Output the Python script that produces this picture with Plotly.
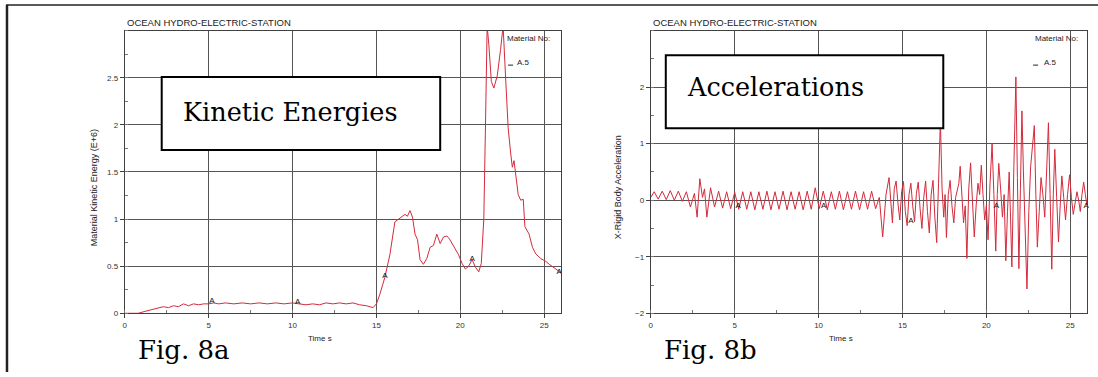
import plotly.graph_objects as go

W, H = 1098, 377

# ---------------- data ----------------
ke_t = [0.0, 0.8, 1.2, 1.6, 2.0, 2.3, 2.6, 2.9, 3.2, 3.5, 3.8, 4.1, 4.4, 4.7, 5.0, 5.3, 5.6,
        6.0, 6.5, 7.0, 7.5, 8.0, 8.5, 9.0, 9.5, 10.0, 10.4, 10.8, 11.2, 11.6, 12.0, 12.4,
        12.8, 13.2, 13.6, 14.0, 14.4, 14.8, 15.0, 15.2, 15.5, 15.8, 16.1, 16.3, 16.5, 16.7,
        16.85, 17.0, 17.15, 17.3, 17.45, 17.6, 17.8, 18.0, 18.2, 18.4, 18.6, 18.8, 19.0,
        19.2, 19.35, 19.5, 19.7, 19.9, 20.1, 20.3, 20.5, 20.7, 20.9, 21.1, 21.25, 21.4,
        21.5, 21.6, 21.7, 21.85, 22.0, 22.2, 22.4, 22.55, 22.7, 22.85, 23.0, 23.1, 23.2,
        23.45, 23.6, 23.75, 23.85, 24.1, 24.3, 24.5, 24.8, 25.1, 25.3, 25.6, 25.9, 26.0]
ke_v = [0.0, 0.0, 0.02, 0.04, 0.06, 0.07, 0.06, 0.08, 0.07, 0.10, 0.08, 0.10, 0.09, 0.10,
        0.10, 0.11, 0.10, 0.11, 0.10, 0.11, 0.10, 0.11, 0.10, 0.11, 0.10, 0.11, 0.10, 0.09,
        0.10, 0.09, 0.11, 0.10, 0.11, 0.10, 0.11, 0.09, 0.08, 0.06, 0.10, 0.20, 0.38, 0.62,
        0.97, 1.00, 1.02, 1.05, 1.03, 1.09, 1.02, 0.84, 0.78, 0.57, 0.52, 0.58, 0.70, 0.72,
        0.84, 0.74, 0.81, 0.82, 0.79, 0.74, 0.68, 0.62, 0.53, 0.47, 0.50, 0.57, 0.49, 0.44,
        0.53, 1.00, 2.00, 3.05, 2.85, 2.46, 2.39, 2.52, 2.80, 3.05, 2.50, 1.97, 1.70, 1.55,
        1.62, 1.26, 1.20, 1.21, 0.92, 0.84, 0.70, 0.63, 0.58, 0.55, 0.52, 0.48, 0.44, 0.43]

acc_t = [0.00, 0.20, 0.44, 0.68, 0.92, 1.16, 1.40, 1.64, 1.88, 2.12, 2.36, 2.60, 2.76, 2.92,
         3.08, 3.20, 3.34, 3.56, 3.80, 4.04, 4.28, 4.52, 4.76, 5.00, 5.24, 5.48, 5.72, 5.96,
         6.20, 6.44, 6.68, 6.92, 7.16, 7.40, 7.64, 7.88, 8.12, 8.36, 8.60, 8.84, 9.08, 9.32,
         9.56, 9.80, 10.04, 10.28, 10.52, 10.76, 11.00, 11.24, 11.48, 11.72, 11.96, 12.20,
         12.44, 12.68, 12.92, 13.16, 13.40, 13.62, 13.82, 14.02, 14.20, 14.30, 14.40, 14.51,
         14.62, 14.73, 14.84, 14.95, 15.06, 15.17, 15.28, 15.39, 15.50, 15.61, 15.72, 15.83,
         15.94, 16.05, 16.16, 16.27, 16.38, 16.49, 16.60, 16.71, 16.82, 16.93, 17.04, 17.15,
         17.26, 17.36, 17.46, 17.54, 17.62, 17.73, 17.84, 17.95, 18.06, 18.17, 18.28, 18.36,
         18.44, 18.54, 18.64, 18.74, 18.84, 18.95, 19.06, 19.17, 19.28, 19.39, 19.50, 19.60,
         19.70, 19.80, 19.90, 20.00, 20.10, 20.22, 20.34, 20.45, 20.56, 20.65, 20.74, 20.85,
         20.96, 21.06, 21.16, 21.26, 21.36, 21.44, 21.52, 21.64, 21.76, 21.85, 21.94, 22.03,
         22.12, 22.21, 22.30, 22.36, 22.42, 22.53, 22.64, 22.75, 22.86, 22.95, 23.04, 23.15,
         23.26, 23.37, 23.48, 23.59, 23.70, 23.80, 23.90, 23.99, 24.08, 24.19, 24.30, 24.40,
         24.50, 24.61, 24.72, 24.84, 24.96, 25.07, 25.18, 25.29, 25.40, 25.50, 25.60, 25.70,
         25.80, 25.90, 26.00]
acc_v = [0.05, 0.15, 0.02, 0.16, 0.01, 0.17, 0.00, 0.16, -0.02, 0.15, -0.12, 0.12, -0.30,
         0.38, 0.05, 0.20, -0.30, 0.22, -0.12, 0.16, -0.14, 0.15, -0.15, 0.14, -0.16, 0.15,
         -0.16, 0.15, -0.17, 0.15, -0.16, 0.16, -0.17, 0.15, -0.16, 0.16, -0.17, 0.15, -0.16,
         0.15, -0.17, 0.16, -0.16, 0.22, -0.15, 0.16, -0.17, 0.15, -0.16, 0.16, -0.17, 0.15,
         -0.16, 0.16, -0.17, 0.15, -0.16, 0.16, -0.15, 0.05, -0.65, 0.10, 0.40, -0.10, -0.40,
         0.20, 0.34, -0.05, -0.35, 0.15, 0.33, -0.20, -0.45, 0.10, 0.30, -0.10, -0.38, 0.12,
         0.32, -0.15, -0.50, 0.05, 0.34, -0.20, -0.58, 0.10, 0.35, -0.30, -0.75, 0.30,
         1.42, 0.20, -0.30, 0.10, -0.66, 0.10, 0.35, -0.10, -0.40, 0.05, 0.20, 0.30,
         0.60, 0.10, -0.40, -0.10, -1.03, 0.20, 0.66, 0.00, -0.65, -0.10, 0.30, 0.10,
         0.62, 0.10, -0.35, -0.10, -0.70, 0.30, 1.00, 0.10, -0.90, 0.10, 0.65, 0.20,
         -0.30, 0.10, -1.07, -0.20, 0.50, -0.30, -1.18, 0.60, 2.18, 0.40, -1.21, 0.20,
         1.58, 0.50, -0.70, -1.00, -1.57, -0.20, 0.60, 1.00, 1.32, 0.10, -0.83, -0.20,
         0.40, 0.10, -0.30, 0.50, 1.37, 0.10, -1.22, 0.10, 0.90, 0.05, -0.74, -0.10,
         0.43, 0.05, -0.35, 0.10, 0.45, 0.05, -0.25, -0.05, 0.15, 0.00, -0.20, 0.10,
         0.32, 0.10, -0.10]

ke_mark_t = [5.2, 10.3, 15.5, 20.7, 25.9]
ke_mark_v = [0.13, 0.12, 0.40, 0.58, 0.44]
acc_mark_t = [5.2, 10.3, 15.5, 20.6, 25.95]
acc_mark_v = [-0.10, -0.10, -0.37, -0.10, -0.10]

x_ticks = [0, 5, 10, 15, 20, 25]
ke_ticks = [0, 0.5, 1, 1.5, 2, 2.5]
acc_ticks = [-2, -1, 0, 1, 2]

station = "OCEAN HYDRO-ELECTRIC-STATION"
# ---------------- figure ----------------
RED = "#d42a3c"
GRID = "#555555"
AX = "#404040"
SANS = "Liberation Sans"
SERIF_FAM = "DejaVu Serif"

fig = go.Figure()
fig.add_trace(go.Scatter(x=ke_t, y=ke_v, mode="lines", line=dict(color=RED, width=1),
                         xaxis="x", yaxis="y", showlegend=False))
fig.add_trace(go.Scatter(x=acc_t, y=acc_v, mode="lines", line=dict(color=RED, width=1),
                         xaxis="x2", yaxis="y2", showlegend=False))
fig.add_trace(go.Scatter(x=ke_mark_t, y=ke_mark_v, mode="text", text=["A"] * len(ke_mark_t),
                         textfont=dict(family=SANS, size=8, color="#111"),
                         xaxis="x", yaxis="y", showlegend=False, cliponaxis=False))
fig.add_trace(go.Scatter(x=acc_mark_t, y=acc_mark_v, mode="text", text=["A"] * len(acc_mark_t),
                         textfont=dict(family=SANS, size=8, color="#111"),
                         xaxis="x2", yaxis="y2", showlegend=False, cliponaxis=False))

ydom = [(H - 317.5) / H, (H - 31) / H]

def xax(dom):
    return dict(domain=dom, range=[0, 26], tickmode="array", tickvals=x_ticks,
                showgrid=True, gridcolor=GRID, gridwidth=1,
                showline=True, linecolor=AX, linewidth=1, mirror=True,
                ticks="outside", ticklen=4, tickcolor=AX, zeroline=False,
                tickfont=dict(family=SANS, size=8, color="#333"),
                minor=dict(dtick=2.5, ticks="inside", ticklen=3, tickcolor="#777", showgrid=False))

def yax(rng, vals, anchor, dt):
    return dict(domain=ydom, range=rng, tickmode="array", tickvals=vals,
                showgrid=True, gridcolor=GRID, gridwidth=1,
                showline=True, linecolor=AX, linewidth=1, mirror=True,
                ticks="outside", ticklen=4, tickcolor=AX, zeroline=False, anchor=anchor,
                tickfont=dict(family=SANS, size=8, color="#333"),
                minor=dict(dtick=dt, ticks="inside", ticklen=3, tickcolor="#777", showgrid=False))

fig.update_layout(
    width=W, height=H, margin=dict(l=0, r=0, t=0, b=0),
    paper_bgcolor="white", plot_bgcolor="white",
    xaxis=xax([123 / W, 560 / W]) | dict(anchor="y"),
    yaxis=yax([0, 3], ke_ticks, "x", 0.25),
    xaxis2=xax([650 / W, 1087 / W]) | dict(anchor="y2"),
    yaxis2=yax([-2, 3], acc_ticks, "x2", 0.5),
)

def px(x):
    return x / W

def py(y):
    return 1 - y / H

ann = []
for x0 in (123, 650):
    ann.append(dict(x=px(x0), y=py(23), xref="paper", yref="paper", text=station,
                    showarrow=False, xanchor="left", yanchor="middle",
                    font=dict(family=SANS, size=9.5, color="#222")))
for x0, x1 in ((504, 510), (1033, 1038)):
    ann.append(dict(x=px(x0), y=py(39), xref="paper", yref="paper", text="Material No:",
                    showarrow=False, xanchor="left", yanchor="middle",
                    font=dict(family=SANS, size=8, color="#222")))
    ann.append(dict(x=px(x1 + 4), y=py(63), xref="paper", yref="paper", text="A.5",
                    showarrow=False, xanchor="left", yanchor="middle",
                    font=dict(family=SANS, size=8, color="#222")))
for xc in (319, 841):
    ann.append(dict(x=px(xc), y=py(343), xref="paper", yref="paper", text="Time s",
                    showarrow=False, xanchor="center", yanchor="middle",
                    font=dict(family=SANS, size=8, color="#222")))
ann.append(dict(x=px(93), y=py(190), xref="paper", yref="paper",
                text="Material Kinetic Energy (E+6)", textangle=-90, showarrow=False,
                xanchor="center", yanchor="middle",
                font=dict(family=SANS, size=9, color="#222")))
ann.append(dict(x=px(618), y=py(190), xref="paper", yref="paper",
                text="X-Rigid Body Acceleration", textangle=-90, showarrow=False,
                xanchor="center", yanchor="middle",
                font=dict(family=SANS, size=9, color="#222")))
SERIF = dict(family=SERIF_FAM, size=25.5, color="black")
ann.append(dict(x=px(179), y=py(114), xref="paper", yref="paper", text="Kinetic Energies",
                showarrow=False, xanchor="left", yanchor="middle", font=SERIF))
ann.append(dict(x=px(684), y=py(88), xref="paper", yref="paper", text="Accelerations",
                showarrow=False, xanchor="left", yanchor="middle", font=SERIF))
FIG = dict(family=SERIF_FAM, size=26, color="black")
ann.append(dict(x=px(134), y=py(355), xref="paper", yref="paper", text="Fig. 8a",
                showarrow=False, xanchor="left", yanchor="middle", font=FIG))
ann.append(dict(x=px(661), y=py(355), xref="paper", yref="paper", text="Fig. 8b",
                showarrow=False, xanchor="left", yanchor="middle", font=FIG))
fig.update_layout(annotations=ann)

shapes = []
shapes.append(dict(type="line", xref="paper", yref="paper", x0=px(4), x1=1, y0=py(5), y1=py(5),
                   line=dict(color="#222", width=1.5)))
shapes.append(dict(type="line", xref="paper", yref="paper", x0=px(5), x1=px(5), y0=py(5), y1=0,
                   line=dict(color="#222", width=2.5)))
shapes.append(dict(type="rect", xref="paper", yref="paper", x0=px(160), x1=px(439),
                   y0=py(152), y1=py(78), fillcolor="white", line=dict(color="black", width=2),
                   layer="above"))
shapes.append(dict(type="rect", xref="paper", yref="paper", x0=px(665), x1=px(943),
                   y0=py(130), y1=py(56), fillcolor="white", line=dict(color="black", width=2),
                   layer="above"))
for x1 in (507, 1033):
    shapes.append(dict(type="line", xref="paper", yref="paper", x0=px(x1), x1=px(x1 + 5),
                       y0=py(66), y1=py(66), line=dict(color="#222", width=1)))
fig.update_layout(shapes=shapes)

fig.write_html("out.html")
